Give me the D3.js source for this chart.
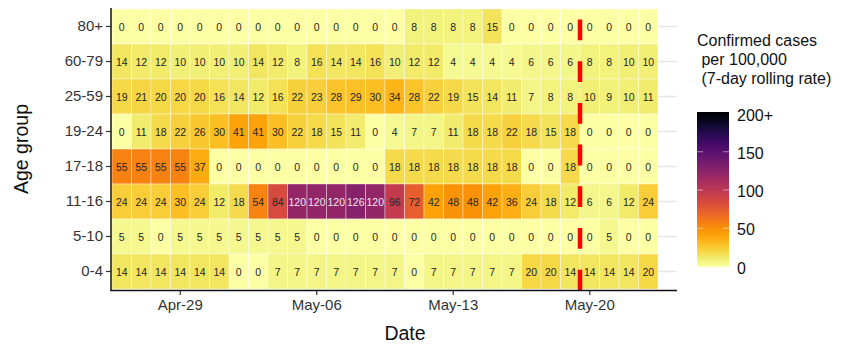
<!DOCTYPE html>
<html>
<head>
<meta charset="utf-8">
<script src="https://cdn.jsdelivr.net/npm/d3@7"></script>
<style>
  html, body { margin: 0; padding: 0; background: #fff; }
  svg { display: block; font-family: "Liberation Sans", Arial, sans-serif; }
</style>
</head>
<body>
<svg id="chart" width="848" height="345"></svg>
<script>
// ---------------- DATA ----------------
const ageGroups = ["80+", "60-79", "25-59", "19-24", "17-18", "11-16", "5-10", "0-4"]; // top to bottom
const startDate = "2021-04-26";
const dayCount = 28;
const tickDates = ["2021-04-29", "2021-05-06", "2021-05-13", "2021-05-20"];
const markerDate = "2021-05-20"; // red dashed line sits at the left edge of this day

const r80    = [0,0,0,0,0,0,0,0,0,0,0,0,0,0,0,8,8,8,8,15,0,0,0,0,0,0,0,0];
const r60_79 = [14,12,12,10,10,10,10,14,12,8,16,14,14,16,10,12,12,4,4,4,4,6,6,6,8,8,10,10];
const r25_59 = [19,21,20,20,20,16,14,12,16,22,23,28,29,30,34,28,22,19,15,14,11,7,8,8,10,9,10,11];
const r19_24 = [0,11,18,22,26,30,41,41,30,22,18,15,11,0,4,7,7,11,18,18,22,18,15,18,0,0,0,0];
const r17_18 = [55,55,55,55,37,0,0,0,0,0,0,0,0,0,18,18,18,18,18,18,18,0,0,18,0,0,0,0];
const r11_16 = [24,24,24,30,24,12,18,54,84,120,120,120,126,120,96,72,42,48,48,42,36,24,18,12,6,6,12,24];
const r5_10  = [5,5,0,5,5,5,5,5,5,5,0,0,0,0,0,0,0,0,0,0,0,0,0,0,0,5,0,0];
const r0_4   = [14,14,14,14,14,14,0,0,7,7,7,7,7,7,7,0,7,7,7,7,7,20,20,14,14,14,14,20];
const rowValues = [r80, r60_79, r25_59, r19_24, r17_18, r11_16, r5_10, r0_4];

const legendTicks = [0, 50, 100, 150, 200];
const legendTickLabels = ["0", "50", "100", "150", "200+"];
const legendTitle = ["Confirmed cases", " per 100,000", " (7-day rolling rate)"];

// ---------------- BUILD ----------------
const parse = d3.timeParse("%Y-%m-%d");
const fmtKey = d3.timeFormat("%Y-%m-%d");
const dates = d3.range(dayCount).map(i => fmtKey(d3.timeDay.offset(parse(startDate), i)));

const cells = [];
ageGroups.forEach((g, r) => {
  rowValues[r].forEach((v, c) => cells.push({ group: g, date: dates[c], value: v }));
});

const svg = d3.select("#chart");

const panel = { left: 111, right: 677, top: 9, bottom: 289 };
const x = d3.scaleBand().domain(dates).range([112, 658]).padding(0);
const y = d3.scaleBand().domain(ageGroups).range([panel.top, panel.bottom]).padding(0);
const color = v => d3.interpolateInferno(1 - Math.min(v, 200) / 200);

// grid lines (only visible outside tiles)
svg.append("g").selectAll("line").data(ageGroups).join("line")
  .attr("x1", panel.left).attr("x2", panel.right)
  .attr("y1", d => y(d) + y.bandwidth() / 2).attr("y2", d => y(d) + y.bandwidth() / 2)
  .attr("stroke", "#e6e6e6").attr("stroke-width", 1.4);

// tiles
svg.append("g").selectAll("rect").data(cells).join("rect")
  .attr("x", d => x(d.date)).attr("y", d => y(d.group))
  .attr("width", x.bandwidth()).attr("height", y.bandwidth())
  .attr("fill", d => color(d.value))
  .attr("stroke", "rgba(255,255,255,0.55)").attr("stroke-width", 0.7);

// tile labels
svg.append("g").selectAll("text").data(cells).join("text")
  .attr("x", d => x(d.date) + x.bandwidth() / 2)
  .attr("y", d => y(d.group) + y.bandwidth() / 2)
  .attr("text-anchor", "middle").attr("dominant-baseline", "central")
  .attr("font-size", 10.5)
  .attr("fill", d => d.value >= 100 ? "#f4e6ef" : "#262626")
  .text(d => d.value);

// red dashed marker line
const mx = x(markerDate);
svg.append("line")
  .attr("x1", mx).attr("x2", mx)
  .attr("y1", panel.bottom + 1.5).attr("y2", panel.top)
  .attr("stroke", "#ff0000").attr("stroke-width", 4.5)
  .attr("stroke-dasharray", "20.8 20.9");

// axes
const yAxis = d3.axisLeft(y).tickSize(5).tickPadding(3);
const gy = svg.append("g").attr("transform", `translate(${panel.left},0)`).call(yAxis);
gy.select(".domain").remove();
gy.selectAll(".tick line").attr("stroke", "#333").attr("stroke-width", 1.2);
gy.selectAll(".tick text").attr("font-size", 15).attr("fill", "#333")
  .attr("font-family", "Liberation Sans, Arial, sans-serif");

const xAxis = d3.axisBottom(x).tickValues(tickDates)
  .tickFormat(d => d3.timeFormat("%b-%d")(parse(d))).tickSize(5).tickPadding(4);
const gx = svg.append("g").attr("transform", `translate(0,${panel.bottom + 1})`).call(xAxis);
gx.select(".domain").remove();
gx.selectAll(".tick line").attr("stroke", "#333").attr("stroke-width", 1.2);
gx.selectAll(".tick text").attr("font-size", 15).attr("fill", "#333")
  .attr("font-family", "Liberation Sans, Arial, sans-serif");

// axis lines
svg.append("line").attr("x1", panel.left).attr("x2", panel.left)
  .attr("y1", panel.top - 1).attr("y2", panel.bottom + 2)
  .attr("stroke", "#111").attr("stroke-width", 1.5);
svg.append("line").attr("x1", panel.left - 0.75).attr("x2", panel.right)
  .attr("y1", panel.bottom + 1.5).attr("y2", panel.bottom + 1.5)
  .attr("stroke", "#111").attr("stroke-width", 1.5);

// axis titles
svg.append("text").attr("x", (panel.left + panel.right) / 2 + 11).attr("y", 333)
  .attr("text-anchor", "middle").attr("dominant-baseline", "central")
  .attr("font-size", 19.5).attr("fill", "#111").text("Date");
svg.append("text")
  .attr("transform", `translate(21,${(panel.top + panel.bottom) / 2}) rotate(-90)`)
  .attr("text-anchor", "middle").attr("dominant-baseline", "central")
  .attr("font-size", 19.5).attr("fill", "#111").text("Age group");

// legend
const lg = svg.append("g");
const titleY = [40, 59, 78];
legendTitle.forEach((t, i) => {
  lg.append("text").attr("x", 697).attr("y", titleY[i])
    .attr("dominant-baseline", "central").attr("font-size", 16).attr("fill", "#111")
    .style("white-space", "pre").text(t);
});

const defs = svg.append("defs");
const grad = defs.append("linearGradient").attr("id", "lgGrad")
  .attr("x1", 0).attr("x2", 0).attr("y1", 1).attr("y2", 0);
d3.range(0, 1.0001, 0.05).forEach(t => {
  grad.append("stop").attr("offset", t).attr("stop-color", color(t * 200));
});
const lScale = d3.scaleLinear().domain([0, 200]).range([268, 115]);
const barTop = 112, barBottom = 267, barX = 697, barW = 32;
lg.append("rect").attr("x", barX).attr("y", barTop).attr("width", barW)
  .attr("height", barBottom - barTop).attr("fill", "url(#lgGrad)");
legendTicks.forEach((v, i) => {
  const yy = lScale(v);
  if (v > 0 && v < 200) {
    lg.append("line").attr("x1", barX).attr("x2", barX + 6).attr("y1", yy - 1.5).attr("y2", yy - 1.5)
      .attr("stroke", "rgba(255,255,255,0.5)").attr("stroke-width", 1);
    lg.append("line").attr("x1", barX + barW - 6).attr("x2", barX + barW).attr("y1", yy - 1.5).attr("y2", yy - 1.5)
      .attr("stroke", "rgba(255,255,255,0.5)").attr("stroke-width", 1);
  }
  lg.append("text").attr("x", 737).attr("y", yy)
    .attr("dominant-baseline", "central").attr("font-size", 16).attr("fill", "#111")
    .text(legendTickLabels[i]);
});
</script>
</body>
</html>
